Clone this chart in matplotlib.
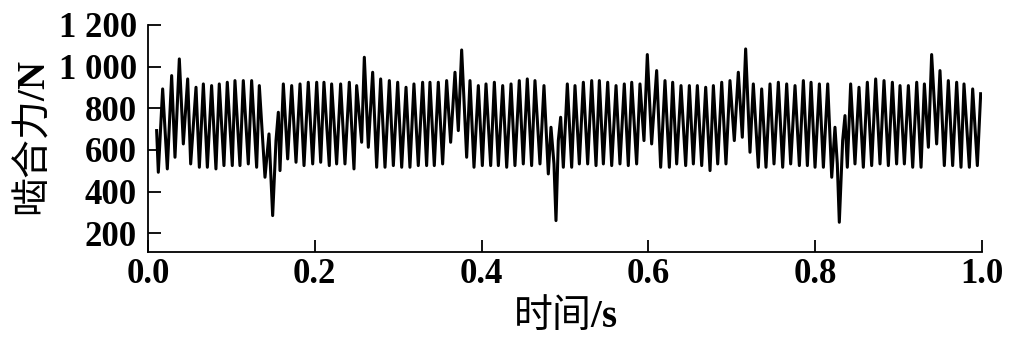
"""Meshing force vs time, redrawn from the reference figure."""
import matplotlib

matplotlib.use("Agg")
import matplotlib.pyplot as plt
from matplotlib.ticker import FuncFormatter

# Extrema of the force signal (time in s, force in N)
time_s = [
    0.0104, 0.0124, 0.0176, 0.0232, 0.0284, 0.0324, 0.0376, 0.0424, 0.0476, 0.0512,
    0.0576, 0.0616, 0.0664, 0.0712, 0.0763, 0.0815, 0.0855, 0.0911, 0.0951, 0.1011,
    0.1043, 0.1103, 0.1143, 0.1203, 0.1243, 0.1303, 0.1335, 0.1403, 0.1451, 0.1495,
    0.1535, 0.1563, 0.1583, 0.1623, 0.1675, 0.1723, 0.1775, 0.1823, 0.1871, 0.1922,
    0.1975, 0.2023, 0.2071, 0.2110, 0.2174, 0.2202, 0.2262, 0.2310, 0.2362, 0.2414,
    0.2470, 0.2502, 0.2562, 0.2594, 0.2642, 0.2694, 0.2742, 0.2790, 0.2842, 0.2894,
    0.2942, 0.2994, 0.3042, 0.3094, 0.3141, 0.3189, 0.3241, 0.3293, 0.3341, 0.3381,
    0.3433, 0.3481, 0.3533, 0.3581, 0.3629, 0.3681, 0.3721, 0.3761, 0.3821, 0.3861,
    0.3909, 0.3961, 0.4009, 0.4053, 0.4109, 0.4153, 0.4201, 0.4253, 0.4301, 0.4353,
    0.4400, 0.4452, 0.4500, 0.4548, 0.4600, 0.4640, 0.4700, 0.4748, 0.4800, 0.4832,
    0.4868, 0.4892, 0.4920, 0.4948, 0.4980, 0.5028, 0.5080, 0.5120, 0.5172, 0.5220,
    0.5272, 0.5320, 0.5372, 0.5412, 0.5460, 0.5512, 0.5560, 0.5612, 0.5659, 0.5711,
    0.5759, 0.5800, 0.5859, 0.5899, 0.5947, 0.5987, 0.6039, 0.6099, 0.6147, 0.6199,
    0.6251, 0.6291, 0.6339, 0.6391, 0.6447, 0.6491, 0.6539, 0.6587, 0.6639, 0.6687,
    0.6739, 0.6779, 0.6831, 0.6879, 0.6930, 0.6978, 0.7030, 0.7078, 0.7126, 0.7166,
    0.7218, 0.7258, 0.7318, 0.7358, 0.7410, 0.7458, 0.7506, 0.7558, 0.7610, 0.7658,
    0.7706, 0.7758, 0.7810, 0.7858, 0.7906, 0.7950, 0.7998, 0.8050, 0.8098, 0.8150,
    0.8198, 0.8237, 0.8265, 0.8289, 0.8329, 0.8357, 0.8385, 0.8425, 0.8477, 0.8525,
    0.8577, 0.8625, 0.8677, 0.8725, 0.8777, 0.8825, 0.8877, 0.8925, 0.8976, 0.9017,
    0.9069, 0.9117, 0.9169, 0.9217, 0.9269, 0.9309, 0.9357, 0.9396, 0.9456, 0.9496,
    0.9548, 0.9596, 0.9648, 0.9696, 0.9748, 0.9784, 0.9848, 0.9888, 0.9944, 0.9984,
]
force_n = [
    693, 493, 893, 509, 957, 565, 1037, 629, 941, 533,
    901, 517, 917, 517, 909, 509, 917, 525, 925, 525,
    933, 525, 933, 533, 933, 517, 909, 469, 677, 285,
    645, 781, 501, 917, 557, 909, 541, 917, 525, 925,
    533, 925, 541, 925, 525, 917, 533, 917, 533, 925,
    509, 909, 637, 1045, 613, 973, 517, 941, 517, 933,
    525, 925, 517, 901, 517, 917, 525, 925, 525, 925,
    525, 925, 533, 933, 637, 973, 693, 1080, 565, 933,
    517, 909, 525, 917, 525, 925, 525, 909, 517, 917,
    525, 933, 533, 941, 525, 933, 533, 909, 485, 709,
    533, 261, 645, 757, 517, 917, 517, 909, 533, 925,
    533, 933, 525, 933, 533, 925, 525, 909, 533, 917,
    525, 925, 533, 917, 645, 1058, 629, 981, 517, 933,
    517, 925, 533, 909, 525, 909, 533, 909, 525, 901,
    501, 909, 533, 925, 533, 933, 645, 973, 661, 1085,
    589, 917, 517, 893, 517, 917, 533, 925, 517, 917,
    533, 909, 525, 933, 525, 925, 517, 917, 517, 917,
    469, 709, 533, 253, 645, 765, 517, 917, 533, 901,
    517, 925, 525, 941, 533, 933, 525, 925, 533, 909,
    533, 909, 517, 925, 517, 917, 613, 1058, 629, 981,
    525, 933, 525, 925, 517, 917, 517, 893, 525, 870,
]

y_ticks = [200, 400, 600, 800, 1000, 1200]
x_ticks = [0.0, 0.2, 0.4, 0.6, 0.8, 1.0]

plt.rcParams["font.family"] = ["Liberation Serif", "Noto Sans CJK SC"]
plt.rcParams["font.weight"] = "bold"
plt.rcParams["mathtext.fontset"] = "custom"
plt.rcParams["mathtext.bf"] = "Liberation Serif:bold"
plt.rcParams["mathtext.rm"] = "Liberation Serif:bold"

fig = plt.figure(figsize=(10.24, 3.42), dpi=100)
ax = fig.add_axes([0.1445, 0.263, 0.8145, 0.664])

ax.plot(time_s, force_n, color="black", lw=2.2)

ax.set_xlim(0, 1.0)
ax.set_ylim(110, 1200)
ax.set_xticks(x_ticks)
ax.set_yticks(y_ticks)
ax.xaxis.set_major_formatter(FuncFormatter(lambda v, p: f"{v:.1f}"))
ax.yaxis.set_major_formatter(FuncFormatter(lambda v, p: f"{int(v):,}".replace(",", " ")))

for side in ["top", "right"]:
    ax.spines[side].set_visible(False)
for side in ["left", "bottom"]:
    ax.spines[side].set_linewidth(1.3)

ax.tick_params(axis="both", direction="in", length=9, width=1.3, labelsize=25)
ax.tick_params(axis="y", pad=8)
ax.tick_params(axis="x", pad=4)

cjk = ["Noto Sans CJK SC", "DejaVu Sans"]
ax.set_ylabel("啮合力$\\mathbf{/N}$", family=cjk, fontweight="normal", fontsize=28, labelpad=4)
ax.set_xlabel("时间$\\mathbf{/s}$", family=cjk, fontweight="normal", fontsize=28, labelpad=4)

fig.savefig("out.png", dpi=100, facecolor="white")
